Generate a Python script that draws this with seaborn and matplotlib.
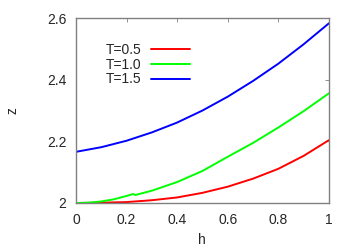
import seaborn as sns
import pandas as pd
import matplotlib.pyplot as plt

# values
h_red = [0.0, 0.1, 0.2, 0.3, 0.4, 0.5, 0.6, 0.7, 0.8, 0.9, 1.0]
z_red = [2.000, 2.001, 2.003, 2.009, 2.018, 2.033, 2.053, 2.079, 2.111, 2.153, 2.204]

h_green = [0.0, 0.05, 0.1, 0.15, 0.2, 0.225, 0.235, 0.3, 0.4, 0.5, 0.6, 0.7, 0.8, 0.9, 1.0]
z_green = [2.000, 2.001, 2.005, 2.012, 2.023, 2.029, 2.026, 2.040, 2.068, 2.104, 2.150, 2.195, 2.245, 2.298, 2.356]

h_blue = [0.0, 0.1, 0.2, 0.3, 0.4, 0.5, 0.6, 0.7, 0.8, 0.9, 1.0]
z_blue = [2.166, 2.181, 2.202, 2.229, 2.261, 2.300, 2.345, 2.396, 2.452, 2.515, 2.583]

labels = ['T=0.5', 'T=1.0', 'T=1.5']
colors = ['#ff0000', '#00ff00', '#0000ff']

x_ticks = [0, 0.2, 0.4, 0.6, 0.8, 1]
x_tick_labels = ['0', '0.2', '0.4', '0.6', '0.8', '1']
y_ticks = [2, 2.2, 2.4, 2.6]
y_tick_labels = ['2', '2.2', '2.4', '2.6']

df = pd.concat([
    pd.DataFrame({'h': h_red, 'z': z_red, 'T': labels[0]}),
    pd.DataFrame({'h': h_green, 'z': z_green, 'T': labels[1]}),
    pd.DataFrame({'h': h_blue, 'z': z_blue, 'T': labels[2]}),
])

sns.set_style('white')
plt.rcParams['font.family'] = ['Liberation Sans', 'DejaVu Sans']

fig = plt.figure(figsize=(3.54, 2.48), dpi=100)
ax = fig.add_axes([76 / 354, 45 / 248, 253 / 354, 185 / 248])

sns.lineplot(data=df, x='h', y='z', hue='T', palette=colors, linewidth=1.4,
             ax=ax, estimator=None, sort=False)

ax.set_xlim(0, 1)
ax.set_ylim(2, 2.6)
ax.set_xticks(x_ticks)
ax.set_xticklabels(x_tick_labels)
ax.set_yticks(y_ticks)
ax.set_yticklabels(y_tick_labels)
ax.tick_params(direction='in', length=3, width=0.6, color='#808080',
               top=True, right=True, labelsize=10, pad=7)
for s in ax.spines.values():
    s.set_color('#808080')
    s.set_linewidth(1.0)

ax.set_xlabel('h', fontsize=10)
ax.set_ylabel('z', fontsize=10)
ax.xaxis.set_label_coords(0.498, -0.16)
ax.yaxis.set_label_coords(-0.225, 0.5)

ax.legend(loc='upper right', bbox_to_anchor=(190 / 354, 1 - 43 / 248),
          bbox_transform=fig.transFigure, frameon=False, markerfirst=False,
          fontsize=10, handlelength=2.8, handletextpad=0.7, labelspacing=0.05,
          borderpad=0, borderaxespad=0)

fig.savefig('out.png', dpi=100)
